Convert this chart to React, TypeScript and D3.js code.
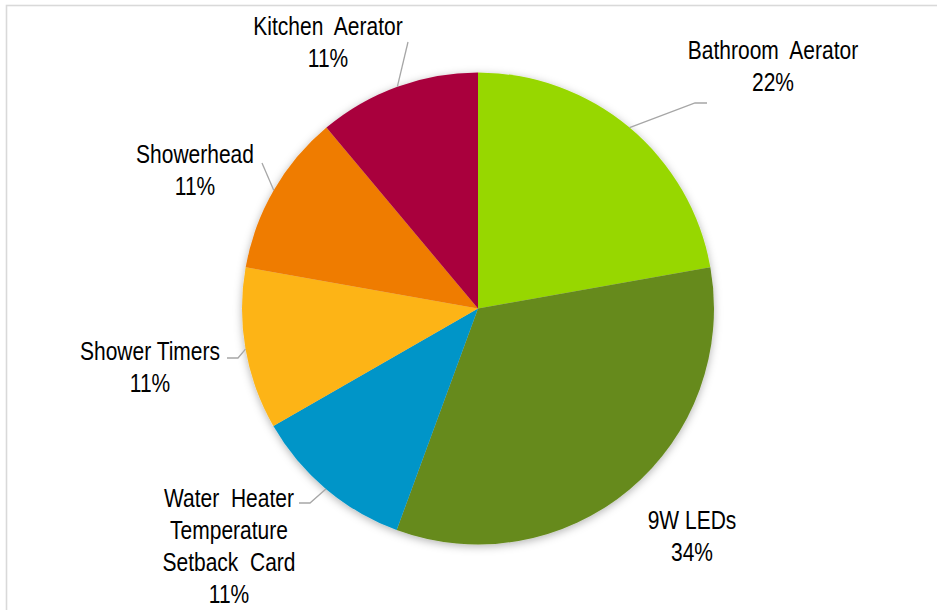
import React from "react";
import * as d3 from "d3";

const categories = [
  "Bathroom Aerator",
  "9W LEDs",
  "Water Heater Temperature Setback Card",
  "Shower Timers",
  "Showerhead",
  "Kitchen Aerator",
];
const values = [22.2, 33.4, 11.1, 11.1, 11.1, 11.1];
const pctLabels = ["22%", "34%", "11%", "11%", "11%", "11%"];
const colors = ["#97D700", "#668A1E", "#0095C8", "#FDB417", "#EF7C06", "#A9003E"];

// label layout: text lines, anchor center x, first baseline y, leader elbow points
const labelLines = [
  ["Bathroom  Aerator"],
  ["9W LEDs"],
  ["Water  Heater", "Temperature", "Setback  Card"],
  ["Shower Timers"],
  ["Showerhead"],
  ["Kitchen  Aerator"],
];
const labelPos: { x: number; y: number; pctGap?: number; leader: [number, number][] | null }[] = [
  { x: 773, y: 59, leader: [[695, 103], [707, 103]] },
  { x: 692, y: 529, leader: null },
  { x: 229, y: 507, leader: [[310, 503], [299, 503]] },
  { x: 150, y: 360, leader: [[238, 358], [227, 358]] },
  { x: 195, y: 163, leader: [[262, 163]] },
  { x: 328, y: 35, leader: [[408, 42]] },
];

const W = 937;
const H = 610;
const cx = 478;
const cy = 308.5;
const R = 236;

export default function App() {
  const pie = d3
    .pie<number>()
    .sort(null)
    .value((d) => d)(values);
  const arc = d3.arc<d3.PieArcDatum<number>>().innerRadius(0).outerRadius(R);
  const edge = d3.arc<d3.PieArcDatum<number>>().innerRadius(R).outerRadius(R);

  const fontSize = 25;
  const sx = 0.84;
  const lineH = 32;

  return (
    <svg
      width={W}
      height={H}
      style={{ position: "absolute", left: 0, top: 0, background: "#fff" }}
      fontFamily="'Liberation Sans', Arial, sans-serif"
    >
      <defs>
        <filter id="sh" x="-20%" y="-20%" width="140%" height="140%">
          <feDropShadow dx="0" dy="2" stdDeviation="4" floodColor="#000" floodOpacity="0.3" />
        </filter>
      </defs>
      <rect x={6.5} y={5.5} width={W + 20} height={H + 20} fill="#fff" stroke="#d9d9d9" strokeWidth={1.6} />
      <g transform={`translate(${cx},${cy})`}>
        <g filter="url(#sh)">
          {pie.map((p, i) => (
            <path key={i} d={arc(p) || ""} fill={colors[i]} />
          ))}
        </g>
      </g>
      {pie.map((p, i) => {
        const lp = labelPos[i];
        if (!lp.leader) return null;
        const [ex, ey] = edge.centroid(p);
        const pts: [number, number][] = [[cx + ex, cy + ey], ...lp.leader];
        return (
          <path
            key={"l" + i}
            d={d3.line()(pts) || ""}
            fill="none"
            stroke="#a6a6a6"
            strokeWidth={1.3}
          />
        );
      })}
      {categories.map((c, i) => {
        const lp = labelPos[i];
        const lines = labelLines[i];
        const all = [...lines, pctLabels[i]];
        return (
          <g key={"t" + i}>
            {all.map((t, j) => (
              <text
                key={j}
                transform={`translate(${lp.x},${lp.y + j * lineH}) scale(${sx},1)`}
                textAnchor="middle"
                fontSize={fontSize}
                fill="#000"
                style={{ whiteSpace: "pre" }}
              >
                {t}
              </text>
            ))}
          </g>
        );
      })}
    </svg>
  );
}
